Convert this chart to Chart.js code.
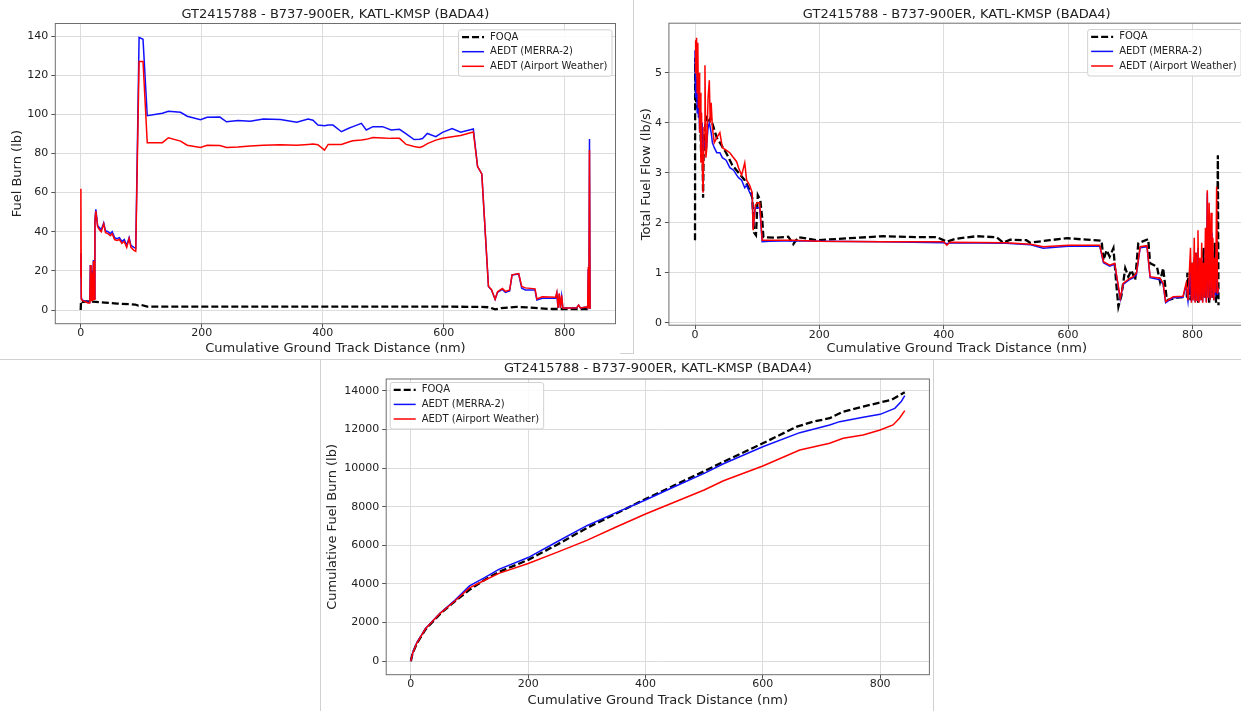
<!DOCTYPE html>
<html>
<head>
<meta charset="utf-8">
<script src="https://cdn.jsdelivr.net/npm/chart.js@4.4.1/dist/chart.umd.min.js"></script>
<style>
  body { margin: 0; width: 1241px; height: 711px; overflow: hidden; background: #fff; position: relative; }
  canvas { position: absolute; }
  .sep { position: absolute; background: #d0d0d0; }
</style>
</head>
<body>
<div class="sep" style="left:633px;top:0;width:1px;height:353px"></div>
<div class="sep" style="left:620px;top:353px;width:14px;height:1px"></div>
<div class="sep" style="left:0;top:359px;width:1241px;height:1px"></div>
<div class="sep" style="left:320px;top:359px;width:1px;height:352px"></div>
<div class="sep" style="left:933px;top:359px;width:1px;height:352px"></div>

<canvas id="burn" width="620" height="360" style="left:0;top:0"></canvas>
<canvas id="flow" width="613" height="360" style="left:634px;top:0"></canvas>
<canvas id="cum" width="612" height="351" style="left:322px;top:360px"></canvas>

<script>
// ---- data ----
const chartTitle = "GT2415788 - B737-900ER, KATL-KMSP (BADA4)";
const seriesNames = ["FOQA", "AEDT (MERRA-2)", "AEDT (Airport Weather)"];
const distTicks = [0, 200, 400, 600, 800];
const burnTicks = [0, 20, 40, 60, 80, 100, 120, 140];
const flowTicks = [0, 1, 2, 3, 4, 5];
const cumTicks = [0, 2000, 4000, 6000, 8000, 10000, 12000, 14000];

// Fuel burn per segment (lb)
const burnFoqaDist = [0, 0.5, 2, 10, 20, 40, 60, 80, 90, 95, 100, 110, 200, 400, 600, 660, 675, 685, 695, 720, 740, 760, 780, 842];
const burnFoqa = [0, 4.5, 4.1, 4.4, 4.3, 3.8, 3.3, 3.0, 2.8, 2.3, 2.6, 1.7, 1.7, 1.75, 1.7, 1.6, 1.4, 0.3, 1.0, 1.6, 1.3, 0.8, 0.5, 0.5];
const burnAedtDist = [
  0, 0.3, 1, 3, 8, 12, 15, 16, 17, 18.5,
  19.5, 21, 22, 23.5, 25, 28, 31, 34, 38, 41,
  45, 49, 52, 56, 60, 64, 68, 72, 76, 80,
  83, 88, 91, 96.5, 103, 110, 125, 135, 145, 165,
  176, 198, 209, 230, 241, 260, 280, 302, 330, 357,
  376, 384, 392, 403, 409, 417, 431, 444, 450, 464,
  472, 483, 499, 513, 527, 538, 551, 560, 565, 573,
  587, 598, 614, 628, 649, 656, 663, 674, 679, 685,
  689, 697, 702, 709, 713, 724, 729, 735, 751, 754,
  763, 785, 787, 789, 791, 793, 795, 797, 810, 820,
  823, 826, 836, 838, 839, 840, 841, 842
];
const burnMerra = [
  17, 29, 6, 5, 4.5, 4, 4, 23, 5, 20,
  5, 25.5, 6, 46, 51.5, 43, 42, 41, 44.5, 40.5,
  40, 39, 40, 37, 36.5, 37, 35, 36, 33, 37,
  33, 32, 31.5, 139.3, 138.3, 99.3, 100, 100.5, 101.5, 101,
  99, 97.2, 98.5, 98.6, 96.2, 96.8, 96.5, 97.6, 97.3, 95.9,
  97.6, 97, 94.5, 94.2, 94.5, 94.5, 91.1, 93, 93.7, 95.4,
  92, 93.7, 93.7, 92, 92.3, 90, 87.1, 87.3, 87.6, 90.2,
  88.6, 90.8, 92.7, 90.8, 92.5, 73.3, 69.5, 12, 10.2, 5.5,
  9, 10.5, 9, 9.7, 17.9, 18.4, 11.1, 10.2, 10.2, 5.1,
  6, 6, 8.5, 1, 8, 1, 7, 1, 1, 1.2,
  2.5, 1, 1.5, 1, 21, 1, 87.4, 0.5
];
const burnAirport = [
  17, 62, 5.5, 4.8, 4.2, 3.6, 3.6, 23, 4.5, 19,
  4.5, 25, 5.5, 45, 50.5, 42.5, 41, 40, 44, 39.5,
  39, 38, 39, 36, 35.5, 36, 34, 35, 32, 36.5,
  32, 30.5, 30, 127, 127, 85.5, 85.5, 85.5, 88, 86.3,
  84.2, 83.1, 84.2, 84, 83.1, 83.3, 83.8, 84.2, 84.5, 84.2,
  84.6, 84.8, 84.5, 81.7, 84.6, 84.6, 84.6, 86, 86.5, 86.9,
  87.2, 88.1, 87.9, 87.7, 87.7, 84.6, 83.5, 83.1, 83.5, 85,
  86.8, 87.8, 88.5, 89.2, 91, 73.3, 69.5, 12, 10.5, 5.5,
  9.3, 11, 9.5, 10.2, 18, 18.6, 12, 11.3, 10.8, 5.6,
  6.8, 6.5, 9, 1, 8.5, 1, 7.5, 1, 1, 1.2,
  2.5, 1, 1.5, 1, 22, 1, 81.7, 0.5
];

// Total fuel flow (lb/s)
const flowFoqaDist = [
  0, 0.3, 1, 2, 4, 6, 8, 10, 12, 13,
  14, 16, 18, 22, 25, 30, 35, 40, 50, 60,
  70, 80, 88, 92, 95, 98, 101, 105, 108, 110,
  130, 150, 158, 166, 196, 249, 303, 357, 389, 405,
  420, 453, 485, 496, 507, 533, 539, 571, 598, 630,
  654, 657, 662, 667, 673, 678, 681, 686, 692, 697,
  702, 708, 713, 729, 732, 743, 748, 753, 759, 775,
  791, 792, 797, 800, 803, 806, 809, 812, 815, 818,
  821, 824, 827, 830, 833, 836, 838, 839, 840, 841,
  842
];
const flowFoqa = [
  1.65, 5.3, 4.5, 4.4, 4.3, 4.25, 4.2, 3.3, 3.6, 2.5,
  3.6, 3.9, 4.1, 4.0, 4.1, 3.9, 3.7, 3.6, 3.4, 3.15,
  3.0, 2.85, 2.65, 2.5, 1.8, 1.75, 2.55, 2.45, 2.1, 1.71,
  1.7, 1.72, 1.57, 1.71, 1.65, 1.69, 1.73, 1.71, 1.71, 1.62,
  1.68, 1.73, 1.71, 1.6, 1.66, 1.65, 1.6, 1.65, 1.69, 1.66,
  1.64, 1.25, 1.45, 1.32, 1.49, 0.72, 0.32, 0.55, 1.09, 0.92,
  1.05, 0.85, 1.59, 1.67, 1.19, 1.12, 0.82, 1.09, 0.45, 0.5,
  0.52, 1.0, 0.45, 1.2, 0.5, 1.4, 0.4, 1.1, 0.45, 1.5,
  0.5, 1.8, 0.4, 1.2, 0.5, 1.6, 0.4, 0.6, 1.8, 3.35,
  0.35
];
const flowAedtDist = [
  0, 0.5, 1.5, 2.5, 3.5, 4.5, 5.5, 6.5, 7.5, 8.5,
  9.5, 10.5, 11.5, 13, 14.5, 16, 17.5, 19, 21, 23,
  24.5, 26, 28, 31, 35, 40, 44, 50, 56, 62,
  67, 70, 75, 80, 83, 88, 92, 93.5, 97, 100,
  104, 108, 120, 158, 200, 300, 400, 405, 410, 500,
  540, 560, 600, 651, 657, 667, 675, 684, 689, 700,
  705, 710, 716, 727, 732, 748, 753, 757, 769, 785,
  790, 793,
  797, 798.5, 800, 801.5, 803, 804.5, 806, 807.5, 809, 810.5,
  812, 813.5, 815, 816.5, 818, 819.5, 821, 822.5, 824, 825.5,
  827, 828.5, 830, 831.5, 833, 834.5, 836, 837.5, 839, 840.5,
  842
];
const flowMerra = [
  5.45, 4.8, 4.5, 4.9, 4.2, 4.6, 4.1, 4.3, 3.8, 4.2,
  3.7, 3.9, 4.0, 3.4, 3.6, 3.5, 3.7, 3.6, 3.9, 4.0,
  3.9, 3.8, 3.6, 3.5, 3.4, 3.4, 3.3, 3.25, 3.1, 3.05,
  2.95, 2.9, 2.85, 2.7, 2.75, 2.6, 2.55, 1.9, 2.3, 2.3,
  2.3, 1.62, 1.63, 1.64, 1.63, 1.62, 1.6, 1.58, 1.6, 1.59,
  1.56, 1.49, 1.53, 1.53, 1.2, 1.13, 1.17, 0.47, 0.77, 0.87,
  0.9, 0.96, 1.5, 1.52, 0.9, 0.86, 0.76, 0.4, 0.5, 0.51,
  0.75, 0.43,
  1.0, 0.42, 1.1, 0.45, 1.3, 0.42, 1.2, 0.45, 1.5, 0.42,
  1.1, 0.45, 1.3, 0.42, 1.0, 0.5, 1.5, 0.42, 2.6, 0.5,
  2.0, 0.45, 1.8, 0.5, 1.4, 0.45, 1.1, 0.55, 1.6, 0.55,
  0.7
];
const flowAirport = [
  5.0, 5.65, 5.3, 5.7, 4.6, 5.6, 4.3, 5.0, 3.8, 4.6,
  3.2, 4.2, 3.3, 2.6, 3.9, 5.15, 3.3, 3.5, 4.5, 4.85,
  4.0, 4.4, 3.9, 3.6, 3.7, 3.8, 3.5, 3.45, 3.4, 3.3,
  3.22, 3.1, 2.95, 3.2, 2.85, 2.75, 2.6, 1.85, 2.35, 2.4,
  2.4, 1.65, 1.65, 1.65, 1.63, 1.62, 1.62, 1.55, 1.61, 1.6,
  1.57, 1.52, 1.55, 1.55, 1.22, 1.15, 1.19, 0.49, 0.79, 0.89,
  0.92, 0.99, 1.52, 1.54, 0.92, 0.89, 0.79, 0.42, 0.52, 0.53,
  0.79, 0.45,
  1.5, 0.4, 1.2, 0.45, 1.7, 0.4, 1.4, 0.45, 1.85, 0.4,
  1.3, 0.45, 1.6, 0.4, 1.2, 0.5, 1.9, 0.4, 2.65, 0.5,
  2.4, 0.45, 2.2, 0.5, 1.7, 0.45, 1.3, 0.6, 2.72, 0.58,
  0.7
];

// Cumulative fuel burn (lb)
const cumFoqaDist = [0, 3, 10, 25, 50, 75, 100, 125, 150, 200, 250, 300, 350, 400, 450, 500, 533, 600, 658, 686, 714, 737, 771, 794, 820, 842];
const cumFoqa = [0, 400, 900, 1650, 2450, 3100, 3700, 4200, 4620, 5250, 6050, 6900, 7650, 8400, 9120, 9840, 10330, 11290, 12150, 12410, 12590, 12930, 13190, 13360, 13550, 13930];
const cumMerraDist = [0, 3, 10, 25, 50, 75, 100, 125, 150, 200, 250, 300, 350, 400, 450, 500, 533, 600, 663, 714, 731, 771, 800, 825, 836, 842];
const cumMerra = [0, 420, 950, 1700, 2500, 3150, 3900, 4320, 4760, 5370, 6200, 7020, 7700, 8350, 9050, 9730, 10230, 11110, 11840, 12240, 12410, 12640, 12790, 13100, 13450, 13760];
const cumAirportDist = [0, 3, 10, 25, 50, 75, 100, 125, 150, 200, 250, 300, 350, 400, 450, 500, 533, 600, 663, 714, 737, 771, 800, 822, 833, 842];
const cumAirport = [0, 400, 920, 1680, 2480, 3120, 3800, 4180, 4550, 5060, 5650, 6260, 6950, 7625, 8250, 8870, 9350, 10110, 10940, 11290, 11550, 11720, 11980, 12240, 12590, 12980];

// ---- drawing ----
const FONT = '"DejaVu Sans", sans-serif';
Chart.defaults.font.family = FONT;
Chart.defaults.color = "#222";

const lineStyles = [
  { color: "#000000", width: 2.3, dash: [7, 3], order: 3 },
  { color: "#1010ff", width: 1.5, dash: [], order: 2 },
  { color: "#ff0000", width: 1.5, dash: [], order: 1 }
];

function lineSet(i, xs, ys) {
  const s = lineStyles[i];
  return {
    label: seriesNames[i],
    data: xs.map((x, k) => ({ x: x, y: ys[k] })),
    borderColor: s.color,
    borderWidth: s.width,
    borderDash: s.dash,
    pointRadius: 0,
    tension: 0,
    fill: false,
    order: s.order
  };
}

// matplotlib-like frame and legend inside the axes
const mplBox = {
  id: "mplBox",
  afterDatasetsDraw(chart, args, opts) {
    const ctx = chart.ctx;
    const a = chart.chartArea;
    ctx.save();
    ctx.strokeStyle = "#6e6e6e";
    ctx.lineWidth = 1;
    ctx.strokeRect(a.left, a.top, a.right - a.left, a.bottom - a.top);

    ctx.font = "10px " + FONT;
    const textW = Math.max(...seriesNames.map(n => ctx.measureText(n).width));
    const w = 4 + 22 + 6 + textW + 4;
    const h = 46.5;
    const x0 = opts.corner === "left" ? a.left + 3.5 : a.right - 4 - w;
    const y0 = a.top + opts.dy;
    ctx.fillStyle = "rgba(255,255,255,0.85)";
    ctx.strokeStyle = "#d0d0d0";
    ctx.beginPath();
    ctx.roundRect(x0 + 0.5, y0 + 0.5, w, h, 2.5);
    ctx.fill();
    ctx.stroke();
    seriesNames.forEach((name, i) => {
      const s = lineStyles[i];
      const y = y0 + 7.8 + i * 14.6;
      ctx.strokeStyle = s.color;
      ctx.lineWidth = s.width;
      ctx.setLineDash(s.dash);
      ctx.beginPath();
      ctx.moveTo(x0 + 4, y);
      ctx.lineTo(x0 + 26, y);
      ctx.stroke();
      ctx.setLineDash([]);
      ctx.fillStyle = "#222";
      ctx.textBaseline = "middle";
      ctx.textAlign = "left";
      ctx.fillText(name, x0 + 32, y);
    });
    ctx.restore();
  }
};

function makeChart(id, c) {
  const axisCommon = {
    type: "linear",
    border: { display: false },
    grid: { color: "#dcdcdc", lineWidth: 1, tickLength: 4, tickColor: "#555", tickWidth: 1 }
  };
  return new Chart(document.getElementById(id), {
    type: "line",
    data: { datasets: c.datasets },
    options: {
      responsive: false,
      animation: false,
      events: [],
      layout: { padding: { left: 0, right: c.padRight, top: 0, bottom: 0 } },
      plugins: {
        legend: { display: false },
        tooltip: { enabled: false },
        title: {
          display: true,
          text: chartTitle,
          fullSize: false,
          color: "#222",
          font: { family: FONT, size: 13, weight: "normal" },
          padding: { top: c.titleTop, bottom: c.titleBottom }
        },
        mplBox: { corner: c.legendCorner, dy: c.legendDy }
      },
      scales: {
        x: Object.assign({}, axisCommon, {
          position: "bottom",
          min: -42,
          max: 884,
          afterBuildTicks: s => { s.ticks = distTicks.map(v => ({ value: v })); },
          afterFit: s => { s.height = c.xAxisH; },
          ticks: { font: { size: 11, lineHeight: 1 }, padding: 0, maxRotation: 0, color: "#222", callback: v => String(v) },
          title: {
            display: true,
            text: "Cumulative Ground Track Distance (nm)",
            color: "#222",
            font: { size: 13 },
            padding: { top: 0, bottom: c.xTitleBottom }
          }
        }),
        y: Object.assign({}, axisCommon, {
          position: "left",
          min: c.yMin,
          max: c.yMax,
          afterBuildTicks: s => { s.ticks = c.yTicks.map(v => ({ value: v })); },
          afterFit: s => { s.width = c.yAxisW; },
          ticks: { font: { size: 11 }, padding: 3, color: "#222", callback: v => String(v) },
          title: {
            display: true,
            text: c.yLabel,
            color: "#222",
            font: { size: 13 },
            padding: { top: c.yTitleTop, bottom: 0 }
          }
        })
      }
    },
    plugins: [mplBox]
  });
}

makeChart("burn", {
  datasets: [
    lineSet(0, burnFoqaDist, burnFoqa),
    lineSet(1, burnAedtDist, burnMerra),
    lineSet(2, burnAedtDist, burnAirport)
  ],
  yLabel: "Fuel Burn (lb)",
  yTicks: burnTicks,
  yMin: -7, yMax: 146.4,
  padRight: 4.5, yAxisW: 55.3, xAxisH: 36.3,
  titleTop: 6.6, titleBottom: 1.3,
  yTitleTop: 10.1, xTitleBottom: 3.9,
  legendCorner: "right", legendDy: 5.8
});

makeChart("flow", {
  datasets: [
    lineSet(0, flowFoqaDist, flowFoqa),
    lineSet(1, flowAedtDist, flowMerra),
    lineSet(2, flowAedtDist, flowAirport)
  ],
  yLabel: "Total Fuel Flow (lb/s)",
  yTicks: flowTicks,
  yMin: -0.05, yMax: 5.99,
  padRight: 2.4, yAxisW: 34.9, xAxisH: 34.8,
  titleTop: 6.6, titleBottom: 1.0,
  yTitleTop: 5.2, xTitleBottom: 3.9,
  legendCorner: "right", legendDy: 5.8
});

makeChart("cum", {
  datasets: [
    lineSet(0, cumFoqaDist, cumFoqa),
    lineSet(1, cumMerraDist, cumMerra),
    lineSet(2, cumAirportDist, cumAirport)
  ],
  yLabel: "Cumulative Fuel Burn (lb)",
  yTicks: cumTicks,
  yMin: -700, yMax: 14620,
  padRight: 4.6, yAxisW: 64.2, xAxisH: 36.3,
  titleTop: 0.5, titleBottom: 2.9,
  yTitleTop: 3.2, xTitleBottom: 2.5,
  legendCorner: "left", legendDy: 3
});
</script>
</body>
</html>
